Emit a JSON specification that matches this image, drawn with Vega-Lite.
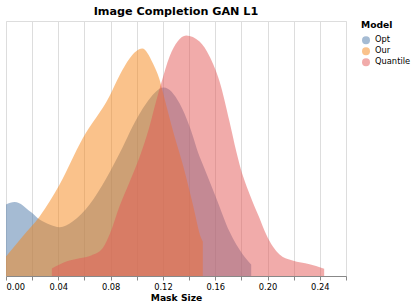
{
  "$schema": "https://vega.github.io/schema/vega-lite/v6.json",
  "width": 340,
  "height": 255,
  "title": "Image Completion GAN L1",
  "config": {
    "font": "DejaVu Sans",
    "title": {"fontSize": 11.2},
    "axis": {"labelFontSize": 8.3, "titleFontSize": 9.2, "tickSize": 4, "titlePadding": 3},
    "legend": {"titleFontSize": 9.2, "labelFontSize": 8.3, "symbolSize": 64, "offset": 15}
  },
  "datasets": {
    "curves": [
      {"Model": "Opt", "x": 0.0, "y": 4.49},
      {"Model": "Opt", "x": 0.0066, "y": 4.65},
      {"Model": "Opt", "x": 0.0193, "y": 4.0},
      {"Model": "Opt", "x": 0.0257, "y": 3.54},
      {"Model": "Opt", "x": 0.0333, "y": 3.23},
      {"Model": "Opt", "x": 0.041, "y": 3.06},
      {"Model": "Opt", "x": 0.0509, "y": 3.42},
      {"Model": "Opt", "x": 0.0639, "y": 4.49},
      {"Model": "Opt", "x": 0.0767, "y": 6.14},
      {"Model": "Opt", "x": 0.0891, "y": 8.06},
      {"Model": "Opt", "x": 0.0968, "y": 9.38},
      {"Model": "Opt", "x": 0.1073, "y": 10.84},
      {"Model": "Opt", "x": 0.1207, "y": 11.83},
      {"Model": "Opt", "x": 0.1327, "y": 10.84},
      {"Model": "Opt", "x": 0.1404, "y": 9.38},
      {"Model": "Opt", "x": 0.148, "y": 7.5},
      {"Model": "Opt", "x": 0.1505, "y": 7.0},
      {"Model": "Opt", "x": 0.1608, "y": 4.88},
      {"Model": "Opt", "x": 0.1709, "y": 2.79},
      {"Model": "Opt", "x": 0.1811, "y": 1.35},
      {"Model": "Opt", "x": 0.1875, "y": 0.72},
      {"Model": "Our", "x": 0.0, "y": 1.22},
      {"Model": "Our", "x": 0.0127, "y": 2.48},
      {"Model": "Our", "x": 0.0257, "y": 3.73},
      {"Model": "Our", "x": 0.041, "y": 5.74},
      {"Model": "Our", "x": 0.0586, "y": 8.63},
      {"Model": "Our", "x": 0.0792, "y": 11.3},
      {"Model": "Our", "x": 0.0869, "y": 12.6},
      {"Model": "Our", "x": 0.0945, "y": 13.65},
      {"Model": "Our", "x": 0.1042, "y": 14.27},
      {"Model": "Our", "x": 0.1123, "y": 13.35},
      {"Model": "Our", "x": 0.1174, "y": 12.33},
      {"Model": "Our", "x": 0.1213, "y": 11.1},
      {"Model": "Our", "x": 0.1251, "y": 9.9},
      {"Model": "Our", "x": 0.1289, "y": 8.75},
      {"Model": "Our", "x": 0.1352, "y": 7.0},
      {"Model": "Our", "x": 0.1429, "y": 4.49},
      {"Model": "Our", "x": 0.1493, "y": 2.37},
      {"Model": "Our", "x": 0.1505, "y": 2.16},
      {"Model": "Quantile", "x": 0.0351, "y": 0.47},
      {"Model": "Quantile", "x": 0.0461, "y": 0.91},
      {"Model": "Quantile", "x": 0.0563, "y": 1.12},
      {"Model": "Quantile", "x": 0.0652, "y": 1.29},
      {"Model": "Quantile", "x": 0.0739, "y": 1.74},
      {"Model": "Quantile", "x": 0.0792, "y": 2.6},
      {"Model": "Quantile", "x": 0.0869, "y": 4.4},
      {"Model": "Quantile", "x": 0.0945, "y": 5.9},
      {"Model": "Quantile", "x": 0.1021, "y": 7.45},
      {"Model": "Quantile", "x": 0.1098, "y": 9.4},
      {"Model": "Quantile", "x": 0.1149, "y": 11.0},
      {"Model": "Quantile", "x": 0.1187, "y": 12.1},
      {"Model": "Quantile", "x": 0.1251, "y": 13.77},
      {"Model": "Quantile", "x": 0.1312, "y": 14.71},
      {"Model": "Quantile", "x": 0.1378, "y": 15.09},
      {"Model": "Quantile", "x": 0.148, "y": 14.71},
      {"Model": "Quantile", "x": 0.1557, "y": 13.77},
      {"Model": "Quantile", "x": 0.1633, "y": 12.2},
      {"Model": "Quantile", "x": 0.1709, "y": 9.69},
      {"Model": "Quantile", "x": 0.1761, "y": 7.81},
      {"Model": "Quantile", "x": 0.1786, "y": 7.0},
      {"Model": "Quantile", "x": 0.1875, "y": 4.88},
      {"Model": "Quantile", "x": 0.1939, "y": 3.63},
      {"Model": "Quantile", "x": 0.199, "y": 2.6},
      {"Model": "Quantile", "x": 0.2092, "y": 1.35},
      {"Model": "Quantile", "x": 0.2191, "y": 0.97},
      {"Model": "Quantile", "x": 0.2321, "y": 0.74},
      {"Model": "Quantile", "x": 0.2421, "y": 0.49},
      {"Model": "Quantile", "x": 0.2433, "y": 0.45}
    ]
  },
  "data": {"name": "curves"},
  "mark": {"type": "area", "opacity": 0.5, "interpolate": "monotone"},
  "encoding": {
    "x": {
      "field": "x",
      "type": "quantitative",
      "title": "Mask Size",
      "scale": {"domain": [0, 0.26]},
      "axis": {"labelExpr": "round(datum.value * 100) % 4 == 0 ? datum.label : ''"}
    },
    "y": {
      "field": "y",
      "type": "quantitative",
      "stack": null,
      "scale": {"domain": [0, 16]},
      "axis": null
    },
    "color": {"field": "Model", "type": "nominal", "title": "Model"}
  }
}
